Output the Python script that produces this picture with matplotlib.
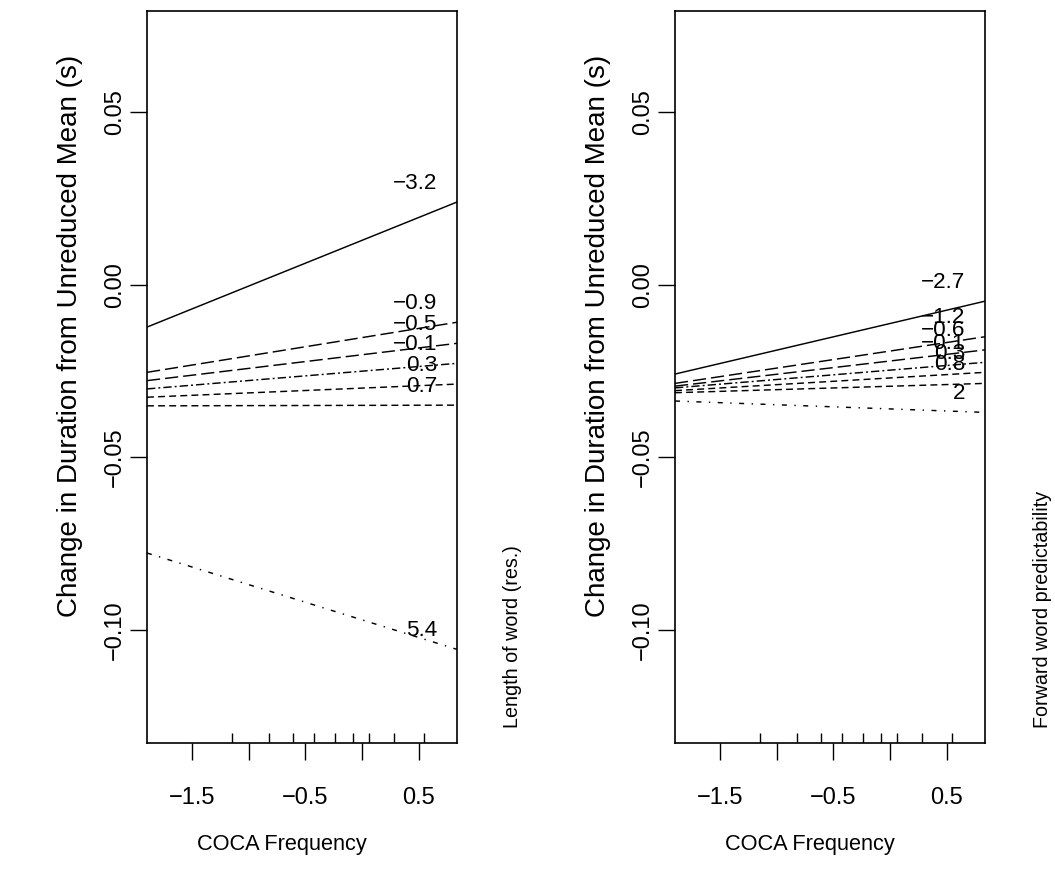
import matplotlib
matplotlib.use("Agg")
import matplotlib.pyplot as plt
import matplotlib.transforms as mtransforms

plt.rcParams['font.family'] = ['Liberation Sans', 'DejaVu Sans']
plt.rcParams['lines.scale_dashes'] = False

# COCA frequency range shown on both panels
freq_lo, freq_hi = -1.897, 0.836

# deciles of COCA frequency (rug)
rug_freq = [-1.147, -0.818, -0.606, -0.427, -0.241, -0.085, 0.062, 0.277, 0.548]

# panel 1: moderator = length of word (res.)
len_levels = ["\u22123.2", "\u22120.9", "\u22120.5", "\u22120.1", "0.3", "0.7", "5.4"]
len_start = [-0.0123, -0.0254, -0.0278, -0.0302, -0.0326, -0.0351, -0.0777]
len_end = [0.0239, -0.0109, -0.0170, -0.0228, -0.0288, -0.0349, -0.1056]

# panel 2: moderator = forward word predictability
pred_levels = ["\u22122.7", "\u22121.2", "\u22120.6", "\u22120.1", "0.3", "0.8", "2"]
pred_start = [-0.0259, -0.0286, -0.0294, -0.0299, -0.0307, -0.0313, -0.0337]
pred_end = [-0.0048, -0.0151, -0.0189, -0.0225, -0.0254, -0.0286, -0.0370]

# R-like line types: solid, longdash x2, dotdash, dashed x2, sparse dotdash
styles = [
    '-',
    (0, (9.5, 3.6)),
    (0, (9.5, 3.6)),
    (0, (6, 2.2, 1.4, 2.2)),
    (0, (5, 3)),
    (0, (5, 3)),
    (0, (3.6, 5.4, 1, 5.4)),
]


def panel(ax, start, end, levels, side_label, side_x):
    for y0, y1, lev, ls in zip(start, end, levels, styles):
        ax.plot([freq_lo, freq_hi], [y0, y1], color='black', lw=1.05, linestyle=ls)
        ax.annotate(lev, xy=(0.665, y1), xytext=(0, 13.7), textcoords='offset points',
                    ha='right', va='center', fontsize=16.2)
    trans = mtransforms.blended_transform_factory(ax.transData, ax.transAxes)
    ax.vlines(rug_freq, 0, 0.0137, transform=trans, color='black', lw=1.0)
    ax.set_xlim(freq_lo, freq_hi)
    ax.set_ylim(-0.1327, 0.0792)
    ax.set_xticks([-1.5, -1.0, -0.5, 0.0, 0.5])
    ax.set_xticklabels(["\u22121.5", "", "\u22120.5", "", "0.5"])
    ax.set_yticks([-0.10, -0.05, 0.0, 0.05])
    ax.set_yticklabels(["\u22120.10", "\u22120.05", "0.00", "0.05"], rotation=90, va='center')
    ax.tick_params(direction='out', length=12, width=1.0, labelsize=17)
    ax.tick_params(axis='x', pad=20)
    ax.tick_params(axis='y', pad=3)
    for s in ax.spines.values():
        s.set_linewidth(1.2)
    ax.set_xlabel("COCA Frequency", fontsize=15.7, va='center')
    ax.xaxis.set_label_coords(0.435, -0.139)
    ax.set_ylabel("Change in Duration from Unreduced Mean (s)", fontsize=20, va='center')
    ax.yaxis.set_label_coords(-0.248, 0.556)
    fig.text(side_x, (888 - 728) / 888, side_label, rotation=90, ha='center', va='bottom',
             fontsize=14.2)


fig = plt.figure(figsize=(10.55, 8.88), dpi=100)
ax1 = fig.add_axes([147 / 1055, 145 / 888, 310 / 1055, 732 / 888])
ax2 = fig.add_axes([675 / 1055, 145 / 888, 310 / 1055, 732 / 888])

panel(ax1, len_start, len_end, len_levels, "Length of word (res.)", 513 / 1055)
panel(ax2, pred_start, pred_end, pred_levels, "Forward word predictability", 1042 / 1055)

fig.savefig("out.png", dpi=100)
